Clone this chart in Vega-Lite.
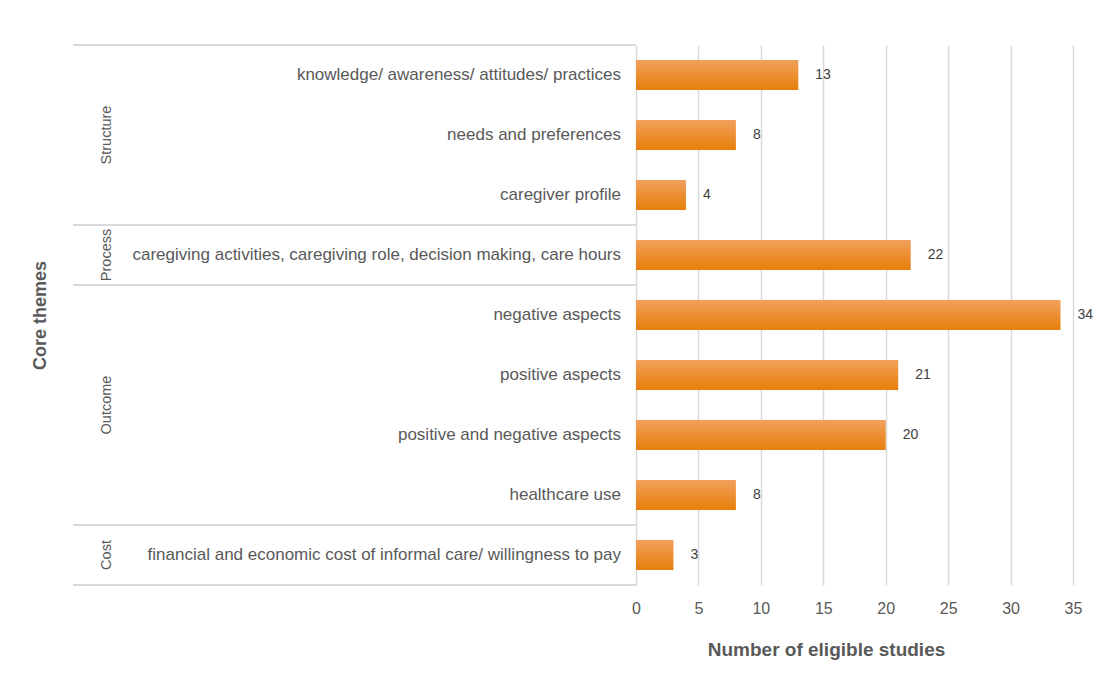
{
  "$schema": "https://vega.github.io/schema/vega-lite/v6.json",
  "background": "white",
  "padding": {"left": 31, "top": 44, "right": 5, "bottom": 5},
  "config": {"font": "Liberation Sans", "view": {"stroke": null}},
  "spacing": 0,
  "bounds": "flush",
  "resolve": {"scale": {"y": "shared"}},
  "data": {"values": [
    {"group": "Structure", "theme": "knowledge/ awareness/ attitudes/ practices", "n": 13},
    {"group": "Structure", "theme": "needs and preferences", "n": 8},
    {"group": "Structure", "theme": "caregiver profile", "n": 4},
    {"group": "Process", "theme": "caregiving activities, caregiving role, decision making, care hours", "n": 22},
    {"group": "Outcome", "theme": "negative aspects", "n": 34},
    {"group": "Outcome", "theme": "positive aspects", "n": 21},
    {"group": "Outcome", "theme": "positive and negative aspects", "n": 20},
    {"group": "Outcome", "theme": "healthcare use", "n": 8},
    {"group": "Cost", "theme": "financial and economic cost of informal care/ willingness to pay", "n": 3}
  ]},
  "hconcat": [
    {
      "width": 563,
      "height": 540,
      "layer": [
        {
          "transform": [{"filter": {"field": "theme", "oneOf": ["knowledge/ awareness/ attitudes/ practices", "caregiving activities, caregiving role, decision making, care hours", "negative aspects", "financial and economic cost of informal care/ willingness to pay"]}}],
          "mark": {"type": "rule", "color": "#D9D9D9", "strokeWidth": 2},
          "encoding": {
            "y": {"field": "theme", "type": "nominal", "bandPosition": 0, "sort": null,
              "scale": {"paddingInner": 0, "paddingOuter": 0, "domain": [
                "knowledge/ awareness/ attitudes/ practices",
                "needs and preferences",
                "caregiver profile",
                "caregiving activities, caregiving role, decision making, care hours",
                "negative aspects",
                "positive aspects",
                "positive and negative aspects",
                "healthcare use",
                "financial and economic cost of informal care/ willingness to pay"]},
              "axis": {"labels": false, "ticks": false, "domain": false, "grid": false, "title": "Core themes", "titleFontSize": 18, "titleFontWeight": "bold", "titleColor": "#595959", "titlePadding": 24}}
          }
        },
        {
          "transform": [{"filter": {"field": "theme", "equal": "financial and economic cost of informal care/ willingness to pay"}}],
          "mark": {"type": "rule", "color": "#D9D9D9", "strokeWidth": 2},
          "encoding": {
            "y": {"field": "theme", "type": "nominal", "bandPosition": 1, "sort": null}
          }
        },
        {
          "mark": {"type": "text", "align": "right", "baseline": "middle", "dx": -15, "fontSize": 17, "color": "#595959"},
          "encoding": {
            "x": {"datum": 1, "type": "quantitative", "scale": {"domain": [0, 1]}, "axis": null},
            "y": {"field": "theme", "type": "nominal", "sort": null},
            "text": {"field": "theme"}
          }
        },
        {
          "transform": [{"filter": {"field": "theme", "oneOf": ["needs and preferences", "caregiving activities, caregiving role, decision making, care hours", "financial and economic cost of informal care/ willingness to pay"]}}],
          "mark": {"type": "text", "align": "center", "baseline": "middle", "angle": 270, "fontSize": 14.5, "color": "#595959"},
          "encoding": {
            "x": {"datum": 0.06, "type": "quantitative"},
            "y": {"field": "theme", "type": "nominal", "sort": null},
            "text": {"field": "group"}
          }
        },
        {
          "transform": [{"filter": {"field": "theme", "equal": "positive aspects"}}],
          "mark": {"type": "text", "align": "center", "baseline": "middle", "angle": 270, "fontSize": 14.5, "color": "#595959"},
          "encoding": {
            "x": {"datum": 0.06, "type": "quantitative"},
            "y": {"field": "theme", "type": "nominal", "sort": null, "bandPosition": 1},
            "text": {"field": "group"}
          }
        }
      ]
    },
    {
      "width": 437,
      "height": 540,
      "layer": [
        {
          "mark": {"type": "bar", "height": {"band": 0.5},
            "color": {"gradient": "linear", "x1": 0, "y1": 0, "x2": 0, "y2": 1,
              "stops": [{"offset": 0, "color": "#F2A05C"}, {"offset": 1, "color": "#E67E0A"}]}},
          "encoding": {
            "x": {"field": "n", "type": "quantitative", "scale": {"domain": [0, 35], "nice": false},
              "axis": {"values": [0, 5, 10, 15, 20, 25, 30, 35], "grid": true, "gridColor": "#D9D9D9", "gridWidth": 1.5, "domain": false, "ticks": false, "labelFlush": false, "labelFontSize": 16, "labelColor": "#595959", "labelPadding": 15, "title": "Number of eligible studies", "titleFontSize": 19, "titleFontWeight": "bold", "titleColor": "#595959", "titlePadding": 24, "titleX": 190}},
            "y": {"field": "theme", "type": "nominal", "sort": null, "axis": null}
          }
        },
        {
          "mark": {"type": "text", "align": "left", "baseline": "middle", "dx": 17, "fontSize": 14, "color": "#404040"},
          "encoding": {
            "x": {"field": "n", "type": "quantitative"},
            "y": {"field": "theme", "type": "nominal", "sort": null},
            "text": {"field": "n"}
          }
        }
      ]
    }
  ]
}
